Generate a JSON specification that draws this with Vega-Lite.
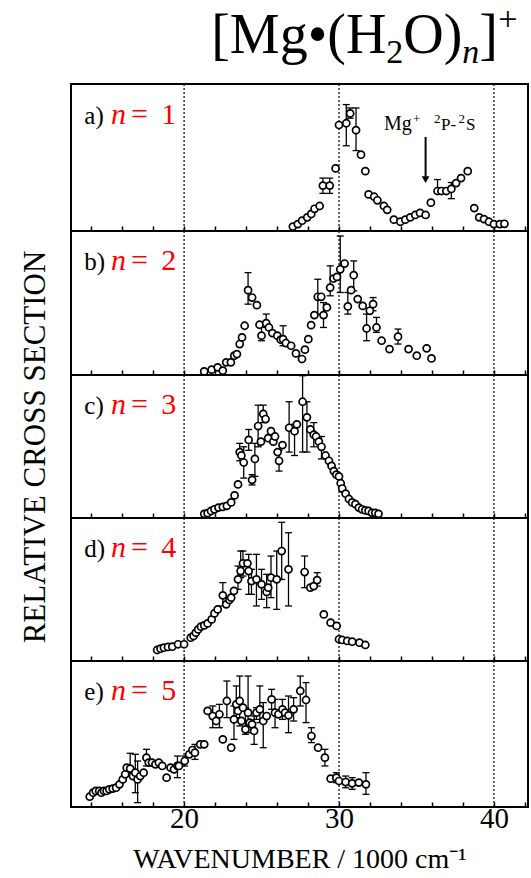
{
  "$schema": "https://vega.github.io/schema/vega-lite/v6.json",
  "padding": {"left": 17, "top": 0, "right": 0, "bottom": 0},
  "background": "white",
  "config": {
    "view": {"stroke": "black", "strokeWidth": 2},
    "font": "Liberation Serif",
    "concat": {"spacing": 0}
  },
  "datasets": {
    "grid": [{"x": 20}, {"x": 30}, {"x": 40}],
    "labels": [
      {"p": "a", "letter": "a)", "num": "1"},
      {"p": "b", "letter": "b)", "num": "2"},
      {"p": "c", "letter": "c)", "num": "3"},
      {"p": "d", "letter": "d)", "num": "4"},
      {"p": "e", "letter": "e)", "num": "5"}
    ],
    "pts": [
      {"p":"a","x":27.02,"y":0.030},{"p":"a","x":27.34,"y":0.047},{"p":"a","x":27.62,"y":0.070},{"p":"a","x":27.95,"y":0.093},
      {"p":"a","x":28.21,"y":0.116},{"p":"a","x":28.42,"y":0.151},{"p":"a","x":28.75,"y":0.170},
      {"p":"a","x":28.96,"y":0.309,"lo":0.256,"hi":0.36},{"p":"a","x":29.40,"y":0.309,"lo":0.256,"hi":0.36},
      {"p":"a","x":29.78,"y":0.426},{"p":"a","x":30.00,"y":0.721},{"p":"a","x":30.47,"y":0.733,"lo":0.58,"hi":0.86},
      {"p":"a","x":30.72,"y":0.80,"lo":0.767,"hi":0.837},{"p":"a","x":31.10,"y":0.686,"lo":0.547,"hi":0.837},
      {"p":"a","x":31.42,"y":0.519},{"p":"a","x":31.70,"y":0.407},{"p":"a","x":31.91,"y":0.249},{"p":"a","x":32.27,"y":0.233},
      {"p":"a","x":32.48,"y":0.209},{"p":"a","x":32.90,"y":0.170},{"p":"a","x":33.11,"y":0.144},{"p":"a","x":33.54,"y":0.077},
      {"p":"a","x":33.96,"y":0.063},{"p":"a","x":34.28,"y":0.077},{"p":"a","x":34.60,"y":0.093},{"p":"a","x":34.92,"y":0.109},
      {"p":"a","x":35.23,"y":0.123},{"p":"a","x":35.59,"y":0.109},{"p":"a","x":35.93,"y":0.193},
      {"p":"a","x":36.36,"y":0.272,"lo":0.256,"hi":0.35},{"p":"a","x":36.61,"y":0.272},{"p":"a","x":36.93,"y":0.272},
      {"p":"a","x":37.25,"y":0.286,"lo":0.22,"hi":0.33},{"p":"a","x":37.56,"y":0.326},{"p":"a","x":37.88,"y":0.360},
      {"p":"a","x":38.31,"y":0.407},{"p":"a","x":38.73,"y":0.156},{"p":"a","x":39.05,"y":0.093},{"p":"a","x":39.36,"y":0.081},
      {"p":"a","x":39.68,"y":0.063},{"p":"a","x":40.00,"y":0.047},{"p":"a","x":40.38,"y":0.047},{"p":"a","x":40.68,"y":0.049},

      {"p":"b","x":21.30,"y":0.025},{"p":"b","x":21.78,"y":0.037},{"p":"b","x":22.17,"y":0.053},{"p":"b","x":22.50,"y":0.030},
      {"p":"b","x":22.72,"y":0.088},{"p":"b","x":23.02,"y":0.088},{"p":"b","x":23.24,"y":0.134},{"p":"b","x":23.41,"y":0.145},
      {"p":"b","x":23.59,"y":0.215},{"p":"b","x":23.74,"y":0.261},{"p":"b","x":23.91,"y":0.342},
      {"p":"b","x":24.13,"y":0.589,"lo":0.492,"hi":0.711},{"p":"b","x":24.39,"y":0.538},{"p":"b","x":24.70,"y":0.485},
      {"p":"b","x":24.87,"y":0.349},{"p":"b","x":25.00,"y":0.273,"lo":0.238,"hi":0.342},{"p":"b","x":25.30,"y":0.360,"lo":0.330,"hi":0.423},
      {"p":"b","x":25.48,"y":0.330},{"p":"b","x":25.70,"y":0.291},{"p":"b","x":26.02,"y":0.273},{"p":"b","x":26.24,"y":0.245},
      {"p":"b","x":26.39,"y":0.249,"lo":0.203,"hi":0.342},{"p":"b","x":26.57,"y":0.222},{"p":"b","x":26.91,"y":0.203},
      {"p":"b","x":27.22,"y":0.150},{"p":"b","x":27.61,"y":0.111},{"p":"b","x":27.80,"y":0.176},{"p":"b","x":28.02,"y":0.249},
      {"p":"b","x":28.20,"y":0.346},{"p":"b","x":28.41,"y":0.416},{"p":"b","x":28.63,"y":0.543,"lo":0.423,"hi":0.665},
      {"p":"b","x":28.85,"y":0.543},{"p":"b","x":29.00,"y":0.416,"lo":0.330,"hi":0.503},{"p":"b","x":29.22,"y":0.469},
      {"p":"b","x":29.43,"y":0.607,"lo":0.55,"hi":0.758},{"p":"b","x":29.65,"y":0.670},{"p":"b","x":29.87,"y":0.681},
      {"p":"b","x":30.08,"y":0.734,"lo":0.573,"hi":0.965},{"p":"b","x":30.36,"y":0.774},{"p":"b","x":30.57,"y":0.476,"lo":0.423,"hi":0.573},
      {"p":"b","x":30.78,"y":0.589},{"p":"b","x":30.95,"y":0.693,"lo":0.584,"hi":0.792},{"p":"b","x":31.21,"y":0.527},
      {"p":"b","x":31.53,"y":0.480},{"p":"b","x":31.78,"y":0.323,"lo":0.238,"hi":0.423},{"p":"b","x":31.99,"y":0.446},
      {"p":"b","x":32.20,"y":0.492,"lo":0.446,"hi":0.538},{"p":"b","x":32.42,"y":0.330,"lo":0.296,"hi":0.400},
      {"p":"b","x":32.75,"y":0.238},{"p":"b","x":33.26,"y":0.180},{"p":"b","x":33.81,"y":0.266,"lo":0.215,"hi":0.319},
      {"p":"b","x":34.49,"y":0.180},{"p":"b","x":35.02,"y":0.134},{"p":"b","x":35.66,"y":0.185},{"p":"b","x":35.97,"y":0.115},

      {"p":"c","x":21.30,"y":0.029},{"p":"c","x":21.52,"y":0.034},{"p":"c","x":21.74,"y":0.049},{"p":"c","x":21.96,"y":0.061},
      {"p":"c","x":22.22,"y":0.073},{"p":"c","x":22.50,"y":0.078},{"p":"c","x":22.76,"y":0.085},{"p":"c","x":23.04,"y":0.109},
      {"p":"c","x":23.26,"y":0.158},{"p":"c","x":23.48,"y":0.235},{"p":"c","x":23.59,"y":0.461,"lo":0.40,"hi":0.522},
      {"p":"c","x":23.70,"y":0.437},{"p":"c","x":23.85,"y":0.388,"lo":0.279,"hi":0.498},{"p":"c","x":24.17,"y":0.546,"lo":0.473,"hi":0.619},
      {"p":"c","x":24.39,"y":0.267,"lo":0.231,"hi":0.303},{"p":"c","x":24.57,"y":0.413,"lo":0.291,"hi":0.522},
      {"p":"c","x":24.78,"y":0.643,"lo":0.498,"hi":0.789},{"p":"c","x":24.96,"y":0.534},{"p":"c","x":25.11,"y":0.728,"lo":0.667,"hi":0.789},
      {"p":"c","x":25.26,"y":0.692},{"p":"c","x":25.43,"y":0.558},{"p":"c","x":25.61,"y":0.607},{"p":"c","x":25.76,"y":0.534},
      {"p":"c","x":25.87,"y":0.570},{"p":"c","x":26.04,"y":0.461},{"p":"c","x":26.13,"y":0.40,"lo":0.328,"hi":0.473},
      {"p":"c","x":26.35,"y":0.510},{"p":"c","x":26.78,"y":0.631,"lo":0.461,"hi":0.813},{"p":"c","x":27.13,"y":0.607,"lo":0.437,"hi":0.655},
      {"p":"c","x":27.28,"y":0.655},{"p":"c","x":27.65,"y":0.813,"lo":0.461,"hi":0.995},{"p":"c","x":27.93,"y":0.704,"lo":0.461,"hi":0.813},
      {"p":"c","x":28.15,"y":0.619},{"p":"c","x":28.37,"y":0.583,"lo":0.498,"hi":0.667},{"p":"c","x":28.52,"y":0.570},
      {"p":"c","x":28.70,"y":0.534},{"p":"c","x":28.87,"y":0.498,"lo":0.413,"hi":0.570},{"p":"c","x":29.13,"y":0.437},
      {"p":"c","x":29.35,"y":0.40},{"p":"c","x":29.52,"y":0.364},{"p":"c","x":29.67,"y":0.328},{"p":"c","x":29.83,"y":0.303},
      {"p":"c","x":30.00,"y":0.291},{"p":"c","x":30.11,"y":0.243},{"p":"c","x":30.21,"y":0.206},{"p":"c","x":30.43,"y":0.170},
      {"p":"c","x":30.64,"y":0.133},{"p":"c","x":30.85,"y":0.109},{"p":"c","x":31.06,"y":0.097},{"p":"c","x":31.28,"y":0.073},
      {"p":"c","x":31.49,"y":0.061},{"p":"c","x":31.70,"y":0.053},{"p":"c","x":31.91,"y":0.049},{"p":"c","x":32.13,"y":0.036},
      {"p":"c","x":32.34,"y":0.036},{"p":"c","x":32.55,"y":0.029},

      {"p":"d","x":18.26,"y":0.077},{"p":"d","x":18.48,"y":0.086},{"p":"d","x":18.70,"y":0.093},{"p":"d","x":18.96,"y":0.098},
      {"p":"d","x":19.24,"y":0.100},{"p":"d","x":19.61,"y":0.117},{"p":"d","x":20.00,"y":0.117},{"p":"d","x":20.43,"y":0.163},
      {"p":"d","x":20.61,"y":0.175},{"p":"d","x":20.76,"y":0.198},{"p":"d","x":20.91,"y":0.221},{"p":"d","x":21.09,"y":0.240},
      {"p":"d","x":21.30,"y":0.249},{"p":"d","x":21.52,"y":0.263},{"p":"d","x":21.78,"y":0.291},{"p":"d","x":21.96,"y":0.333},
      {"p":"d","x":22.17,"y":0.361},{"p":"d","x":22.50,"y":0.459,"lo":0.385,"hi":0.548},{"p":"d","x":22.72,"y":0.396},
      {"p":"d","x":22.93,"y":0.427},{"p":"d","x":23.04,"y":0.443},{"p":"d","x":23.22,"y":0.490},
      {"p":"d","x":23.48,"y":0.571,"lo":0.501,"hi":0.664},{"p":"d","x":23.65,"y":0.629,"lo":0.583,"hi":0.769},
      {"p":"d","x":23.80,"y":0.683,"lo":0.594,"hi":0.769},{"p":"d","x":24.09,"y":0.683},{"p":"d","x":24.17,"y":0.629,"lo":0.466,"hi":0.746},
      {"p":"d","x":24.35,"y":0.559,"lo":0.466,"hi":0.641},{"p":"d","x":24.67,"y":0.571,"lo":0.385,"hi":0.746},
      {"p":"d","x":25.00,"y":0.536,"lo":0.431,"hi":0.641},{"p":"d","x":25.33,"y":0.483,"lo":0.373,"hi":0.606},
      {"p":"d","x":25.43,"y":0.513},{"p":"d","x":25.61,"y":0.583,"lo":0.443,"hi":0.734},{"p":"d","x":25.98,"y":0.571,"lo":0.361,"hi":0.769},
      {"p":"d","x":26.30,"y":0.769,"lo":0.57,"hi":0.97},{"p":"d","x":26.74,"y":0.641,"lo":0.385,"hi":0.897},
      {"p":"d","x":27.78,"y":0.622,"lo":0.513,"hi":0.734},{"p":"d","x":28.15,"y":0.513},{"p":"d","x":28.37,"y":0.524},
      {"p":"d","x":28.59,"y":0.566,"lo":0.524,"hi":0.618},{"p":"d","x":29.02,"y":0.326},{"p":"d","x":29.46,"y":0.268},
      {"p":"d","x":29.85,"y":0.245},{"p":"d","x":30.00,"y":0.152},{"p":"d","x":30.21,"y":0.147},{"p":"d","x":30.53,"y":0.140},
      {"p":"d","x":30.85,"y":0.135},{"p":"d","x":31.32,"y":0.128},{"p":"d","x":31.70,"y":0.112},

      {"p":"e","x":13.91,"y":0.071},{"p":"e","x":14.13,"y":0.098},{"p":"e","x":14.30,"y":0.110},{"p":"e","x":14.52,"y":0.110},
      {"p":"e","x":14.67,"y":0.098},{"p":"e","x":14.83,"y":0.110},{"p":"e","x":15.00,"y":0.110},{"p":"e","x":15.17,"y":0.121},
      {"p":"e","x":15.39,"y":0.126},{"p":"e","x":15.61,"y":0.132},{"p":"e","x":15.83,"y":0.155},{"p":"e","x":16.04,"y":0.189},
      {"p":"e","x":16.20,"y":0.224},{"p":"e","x":16.30,"y":0.269},{"p":"e","x":16.52,"y":0.263,"lo":0.212,"hi":0.368},
      {"p":"e","x":16.70,"y":0.212},{"p":"e","x":16.85,"y":0.235,"lo":0.098,"hi":0.361},{"p":"e","x":17.00,"y":0.189,"lo":0.03,"hi":0.315},
      {"p":"e","x":17.17,"y":0.212},{"p":"e","x":17.39,"y":0.235},{"p":"e","x":17.57,"y":0.338,"lo":0.281,"hi":0.395},
      {"p":"e","x":17.72,"y":0.304},{"p":"e","x":17.93,"y":0.304},{"p":"e","x":18.15,"y":0.292},{"p":"e","x":18.37,"y":0.304},
      {"p":"e","x":18.59,"y":0.281},{"p":"e","x":18.87,"y":0.201},{"p":"e","x":19.13,"y":0.269},{"p":"e","x":19.35,"y":0.258},
      {"p":"e","x":19.57,"y":0.281,"lo":0.201,"hi":0.349},{"p":"e","x":19.67,"y":0.281},{"p":"e","x":20.04,"y":0.315,"lo":0.281,"hi":0.349},
      {"p":"e","x":20.33,"y":0.361},{"p":"e","x":20.54,"y":0.390},{"p":"e","x":20.70,"y":0.372,"lo":0.326,"hi":0.429},
      {"p":"e","x":21.04,"y":0.429},{"p":"e","x":21.30,"y":0.429},{"p":"e","x":21.52,"y":0.658},
      {"p":"e","x":21.85,"y":0.623,"lo":0.543,"hi":0.692},{"p":"e","x":22.07,"y":0.589},{"p":"e","x":22.28,"y":0.635,"lo":0.543,"hi":0.703},
      {"p":"e","x":22.50,"y":0.463},{"p":"e","x":22.76,"y":0.726,"lo":0.612,"hi":0.863},{"p":"e","x":23.04,"y":0.406},
      {"p":"e","x":23.22,"y":0.600,"lo":0.463,"hi":0.692},{"p":"e","x":23.37,"y":0.703,"lo":0.612,"hi":0.829},{"p":"e","x":23.48,"y":0.658},
      {"p":"e","x":23.59,"y":0.726,"lo":0.555,"hi":0.897},{"p":"e","x":23.70,"y":0.589},{"p":"e","x":23.80,"y":0.680},
      {"p":"e","x":23.96,"y":0.532,"lo":0.498,"hi":0.680},{"p":"e","x":24.13,"y":0.646,"lo":0.509,"hi":0.897},{"p":"e","x":24.24,"y":0.578},
      {"p":"e","x":24.39,"y":0.566},{"p":"e","x":24.52,"y":0.521,"lo":0.429,"hi":0.623},{"p":"e","x":24.67,"y":0.646,"lo":0.600,"hi":0.680},
      {"p":"e","x":24.89,"y":0.669,"lo":0.578,"hi":0.829},{"p":"e","x":25.11,"y":0.589,"lo":0.406,"hi":0.715},{"p":"e","x":25.33,"y":0.623},
      {"p":"e","x":25.65,"y":0.737,"lo":0.669,"hi":0.806},{"p":"e","x":25.87,"y":0.646,"lo":0.543,"hi":0.737},{"p":"e","x":26.09,"y":0.635},
      {"p":"e","x":26.35,"y":0.669,"lo":0.600,"hi":0.737},{"p":"e","x":26.52,"y":0.646},{"p":"e","x":26.74,"y":0.628,"lo":0.509,"hi":0.760},
      {"p":"e","x":27.07,"y":0.669,"lo":0.589,"hi":0.749},{"p":"e","x":27.50,"y":0.795,"lo":0.692,"hi":0.897},
      {"p":"e","x":27.87,"y":0.733,"lo":0.578,"hi":0.852},{"p":"e","x":28.22,"y":0.486,"lo":0.441,"hi":0.543},{"p":"e","x":28.65,"y":0.406},
      {"p":"e","x":29.09,"y":0.338,"lo":0.281,"hi":0.395},{"p":"e","x":29.46,"y":0.194},{"p":"e","x":29.83,"y":0.201,"lo":0.167,"hi":0.235},
      {"p":"e","x":30.00,"y":0.178},{"p":"e","x":30.43,"y":0.171,"lo":0.132,"hi":0.212},{"p":"e","x":30.85,"y":0.162,"lo":0.121,"hi":0.201},
      {"p":"e","x":31.28,"y":0.167},{"p":"e","x":31.74,"y":0.155,"lo":0.087,"hi":0.235}
    ]
  },
  "vconcat": [
    {
      "width": 457, "height": 84,
      "data": {"values": [{}]},
      "view": {"stroke": null},
      "layer": [
        {"mark": {"type": "text", "text": "[Mg•(H", "align": "left", "baseline": "alphabetic", "fontSize": 56, "font": "Liberation Serif", "color": "black"},
         "encoding": {"x": {"datum": 21.75, "type": "quantitative", "scale": {"domain": [12.7, 42.2], "nice": false, "zero": false}, "axis": null},
                      "y": {"datum": 0.369, "type": "quantitative", "scale": {"domain": [0, 1]}, "axis": null}}},
        {"mark": {"type": "text", "text": "2", "align": "left", "baseline": "alphabetic", "fontSize": 34, "font": "Liberation Serif", "color": "black"},
         "encoding": {"x": {"datum": 33.05, "type": "quantitative", "axis": null}, "y": {"datum": 0.25, "type": "quantitative", "axis": null}}},
        {"mark": {"type": "text", "text": "O)", "align": "left", "baseline": "alphabetic", "fontSize": 56, "font": "Liberation Serif", "color": "black"},
         "encoding": {"x": {"datum": 34.15, "type": "quantitative", "axis": null}, "y": {"datum": 0.369, "type": "quantitative", "axis": null}}},
        {"mark": {"type": "text", "text": "n", "align": "left", "baseline": "alphabetic", "fontSize": 34, "fontStyle": "italic", "font": "Liberation Serif", "color": "black"},
         "encoding": {"x": {"datum": 37.96, "type": "quantitative", "axis": null}, "y": {"datum": 0.25, "type": "quantitative", "axis": null}}},
        {"mark": {"type": "text", "text": "]", "align": "left", "baseline": "alphabetic", "fontSize": 56, "font": "Liberation Serif", "color": "black"},
         "encoding": {"x": {"datum": 39.05, "type": "quantitative", "axis": null}, "y": {"datum": 0.369, "type": "quantitative", "axis": null}}},
        {"mark": {"type": "text", "text": "+", "align": "left", "baseline": "alphabetic", "fontSize": 34, "font": "Liberation Serif", "color": "black"},
         "encoding": {"x": {"datum": 40.28, "type": "quantitative", "axis": null}, "y": {"datum": 0.643, "type": "quantitative", "axis": null}}}
      ]
    },
    {
      "width": 457, "height": 147,
      "layer": [
        {"data": {"name": "grid"}, "mark": {"type": "rule", "strokeDash": [2, 2], "strokeWidth": 1.2, "color": "black"},
         "encoding": {"x": {"field": "x", "type": "quantitative", "scale": {"domain": [12.7, 42.2], "nice": false, "zero": false},
           "axis": {"title": null, "values": [14,16,18,20,22,24,26,28,30,32,34,36,38,40,42], "labels": false, "tickSize": -5, "tickColor": "black", "tickWidth": 1.5, "domain": false, "grid": false}}}},
        {"data": {"name": "pts"}, "transform": [{"filter": "datum.p === 'a' && isValid(datum.lo)"}],
         "mark": {"type": "rule", "strokeWidth": 1.3, "color": "black"},
         "encoding": {"x": {"field": "x", "type": "quantitative", "axis": {"title": null, "values": [14,16,18,20,22,24,26,28,30,32,34,36,38,40,42], "labels": false, "tickSize": -5, "tickColor": "black", "tickWidth": 1.5, "domain": false, "grid": false}},
           "y": {"field": "lo", "type": "quantitative", "scale": {"domain": [0, 1]}, "axis": null}, "y2": {"field": "hi"}}},
        {"data": {"name": "pts"}, "transform": [{"filter": "datum.p === 'a' && isValid(datum.lo)"}],
         "mark": {"type": "tick", "orient": "horizontal", "size": 7, "thickness": 1.3, "color": "black", "opacity": 1},
         "encoding": {"x": {"field": "x", "type": "quantitative", "axis": {"title": null, "values": [14,16,18,20,22,24,26,28,30,32,34,36,38,40,42], "labels": false, "tickSize": -5, "tickColor": "black", "tickWidth": 1.5, "domain": false, "grid": false}},
           "y": {"field": "lo", "type": "quantitative", "axis": null}}},
        {"data": {"name": "pts"}, "transform": [{"filter": "datum.p === 'a' && isValid(datum.lo)"}],
         "mark": {"type": "tick", "orient": "horizontal", "size": 7, "thickness": 1.3, "color": "black", "opacity": 1},
         "encoding": {"x": {"field": "x", "type": "quantitative", "axis": {"title": null, "values": [14,16,18,20,22,24,26,28,30,32,34,36,38,40,42], "labels": false, "tickSize": -5, "tickColor": "black", "tickWidth": 1.5, "domain": false, "grid": false}},
           "y": {"field": "hi", "type": "quantitative", "axis": null}}},
        {"data": {"name": "pts"}, "transform": [{"filter": "datum.p === 'a'"}],
         "mark": {"type": "point", "shape": "circle", "filled": true, "fill": "white", "stroke": "black", "strokeWidth": 1.7, "size": 50, "opacity": 1},
         "encoding": {"x": {"field": "x", "type": "quantitative", "axis": {"title": null, "values": [14,16,18,20,22,24,26,28,30,32,34,36,38,40,42], "labels": false, "tickSize": -5, "tickColor": "black", "tickWidth": 1.5, "domain": false, "grid": false}},
           "y": {"field": "y", "type": "quantitative", "axis": null}}},
        {"data": {"values": [{}]}, "mark": {"type": "rule", "strokeWidth": 2, "color": "black"},
         "encoding": {"x": {"datum": 35.59, "type": "quantitative", "axis": {"title": null, "values": [14,16,18,20,22,24,26,28,30,32,34,36,38,40,42], "labels": false, "tickSize": -5, "tickColor": "black", "tickWidth": 1.5, "domain": false, "grid": false}},
           "y": {"datum": 0.64, "type": "quantitative", "axis": null}, "y2": {"datum": 0.37}}},
        {"data": {"values": [{}]}, "mark": {"type": "point", "shape": "triangle-down", "filled": true, "color": "black", "size": 60, "opacity": 1},
         "encoding": {"x": {"datum": 35.59, "type": "quantitative", "axis": {"title": null, "values": [14,16,18,20,22,24,26,28,30,32,34,36,38,40,42], "labels": false, "tickSize": -5, "tickColor": "black", "tickWidth": 1.5, "domain": false, "grid": false}},
           "y": {"datum": 0.35, "type": "quantitative", "axis": null}}},
        {"data": {"values": [{}]}, "mark": {"type": "text", "text": "Mg", "align": "left", "baseline": "alphabetic", "fontSize": 20, "font": "Liberation Serif", "color": "black"},
         "encoding": {"x": {"datum": 32.91, "type": "quantitative", "axis": {"title": null, "values": [14,16,18,20,22,24,26,28,30,32,34,36,38,40,42], "labels": false, "tickSize": -5, "tickColor": "black", "tickWidth": 1.5, "domain": false, "grid": false}},
           "y": {"datum": 0.687, "type": "quantitative", "axis": null}}},
        {"data": {"values": [{}]}, "mark": {"type": "text", "text": "+", "align": "left", "baseline": "alphabetic", "fontSize": 13, "font": "Liberation Serif", "color": "black"},
         "encoding": {"x": {"datum": 34.78, "type": "quantitative", "axis": {"title": null, "values": [14,16,18,20,22,24,26,28,30,32,34,36,38,40,42], "labels": false, "tickSize": -5, "tickColor": "black", "tickWidth": 1.5, "domain": false, "grid": false}},
           "y": {"datum": 0.735, "type": "quantitative", "axis": null}}},
        {"data": {"values": [{}]}, "mark": {"type": "text", "text": "2", "align": "left", "baseline": "alphabetic", "fontSize": 13, "font": "Liberation Serif", "color": "black"},
         "encoding": {"x": {"datum": 36.13, "type": "quantitative", "axis": {"title": null, "values": [14,16,18,20,22,24,26,28,30,32,34,36,38,40,42], "labels": false, "tickSize": -5, "tickColor": "black", "tickWidth": 1.5, "domain": false, "grid": false}},
           "y": {"datum": 0.735, "type": "quantitative", "axis": null}}},
        {"data": {"values": [{}]}, "mark": {"type": "text", "text": "P-", "align": "left", "baseline": "alphabetic", "fontSize": 17, "font": "Liberation Serif", "color": "black"},
         "encoding": {"x": {"datum": 36.59, "type": "quantitative", "axis": {"title": null, "values": [14,16,18,20,22,24,26,28,30,32,34,36,38,40,42], "labels": false, "tickSize": -5, "tickColor": "black", "tickWidth": 1.5, "domain": false, "grid": false}},
           "y": {"datum": 0.687, "type": "quantitative", "axis": null}}},
        {"data": {"values": [{}]}, "mark": {"type": "text", "text": "2", "align": "left", "baseline": "alphabetic", "fontSize": 13, "font": "Liberation Serif", "color": "black"},
         "encoding": {"x": {"datum": 37.72, "type": "quantitative", "axis": {"title": null, "values": [14,16,18,20,22,24,26,28,30,32,34,36,38,40,42], "labels": false, "tickSize": -5, "tickColor": "black", "tickWidth": 1.5, "domain": false, "grid": false}},
           "y": {"datum": 0.735, "type": "quantitative", "axis": null}}},
        {"data": {"values": [{}]}, "mark": {"type": "text", "text": "S", "align": "left", "baseline": "alphabetic", "fontSize": 17, "font": "Liberation Serif", "color": "black"},
         "encoding": {"x": {"datum": 38.20, "type": "quantitative", "axis": {"title": null, "values": [14,16,18,20,22,24,26,28,30,32,34,36,38,40,42], "labels": false, "tickSize": -5, "tickColor": "black", "tickWidth": 1.5, "domain": false, "grid": false}},
           "y": {"datum": 0.687, "type": "quantitative", "axis": null}}},
        {"data": {"name": "labels"}, "transform": [{"filter": "datum.p === 'a'"}],
         "mark": {"type": "text", "align": "left", "baseline": "alphabetic", "fontSize": 25, "font": "Liberation Serif", "color": "black"},
         "encoding": {"x": {"datum": 13.56, "type": "quantitative", "axis": {"title": null, "values": [14,16,18,20,22,24,26,28,30,32,34,36,38,40,42], "labels": false, "tickSize": -5, "tickColor": "black", "tickWidth": 1.5, "domain": false, "grid": false}},
           "y": {"datum": 0.73, "type": "quantitative", "axis": null}, "text": {"field": "letter"}}},
        {"data": {"name": "labels"}, "transform": [{"filter": "datum.p === 'a'"}],
         "mark": {"type": "text", "text": "n", "align": "left", "baseline": "alphabetic", "fontSize": 30, "fontStyle": "italic", "font": "Liberation Serif", "color": "#ff0000"},
         "encoding": {"x": {"datum": 15.29, "type": "quantitative", "axis": {"title": null, "values": [14,16,18,20,22,24,26,28,30,32,34,36,38,40,42], "labels": false, "tickSize": -5, "tickColor": "black", "tickWidth": 1.5, "domain": false, "grid": false}},
           "y": {"datum": 0.73, "type": "quantitative", "axis": null}}},
        {"data": {"name": "labels"}, "transform": [{"filter": "datum.p === 'a'"}],
         "mark": {"type": "text", "text": "=", "align": "left", "baseline": "alphabetic", "fontSize": 30, "font": "Liberation Serif", "color": "#ff0000"},
         "encoding": {"x": {"datum": 16.58, "type": "quantitative", "axis": {"title": null, "values": [14,16,18,20,22,24,26,28,30,32,34,36,38,40,42], "labels": false, "tickSize": -5, "tickColor": "black", "tickWidth": 1.5, "domain": false, "grid": false}},
           "y": {"datum": 0.73, "type": "quantitative", "axis": null}}},
        {"data": {"name": "labels"}, "transform": [{"filter": "datum.p === 'a'"}],
         "mark": {"type": "text", "align": "left", "baseline": "alphabetic", "fontSize": 30, "font": "Liberation Serif", "color": "#ff0000"},
         "encoding": {"x": {"datum": 18.52, "type": "quantitative", "axis": {"title": null, "values": [14,16,18,20,22,24,26,28,30,32,34,36,38,40,42], "labels": false, "tickSize": -5, "tickColor": "black", "tickWidth": 1.5, "domain": false, "grid": false}},
           "y": {"datum": 0.73, "type": "quantitative", "axis": null}, "text": {"field": "num"}}}
      ]
    },
    {
      "width": 457, "height": 144,
      "layer": [
        {"data": {"name": "grid"}, "mark": {"type": "rule", "strokeDash": [2, 2], "strokeWidth": 1.2, "color": "black"},
         "encoding": {"x": {"field": "x", "type": "quantitative", "scale": {"domain": [12.7, 42.2], "nice": false, "zero": false},
           "axis": {"title": null, "values": [14,16,18,20,22,24,26,28,30,32,34,36,38,40,42], "labels": false, "tickSize": -5, "tickColor": "black", "tickWidth": 1.5, "domain": false, "grid": false}}}},
        {"data": {"name": "pts"}, "transform": [{"filter": "datum.p === 'b' && isValid(datum.lo)"}],
         "mark": {"type": "rule", "strokeWidth": 1.3, "color": "black"},
         "encoding": {"x": {"field": "x", "type": "quantitative", "axis": {"title": null, "values": [14,16,18,20,22,24,26,28,30,32,34,36,38,40,42], "labels": false, "tickSize": -5, "tickColor": "black", "tickWidth": 1.5, "domain": false, "grid": false}},
           "y": {"field": "lo", "type": "quantitative", "scale": {"domain": [0, 1]}, "axis": null}, "y2": {"field": "hi"}}},
        {"data": {"name": "pts"}, "transform": [{"filter": "datum.p === 'b' && isValid(datum.lo)"}],
         "mark": {"type": "tick", "orient": "horizontal", "size": 7, "thickness": 1.3, "color": "black", "opacity": 1},
         "encoding": {"x": {"field": "x", "type": "quantitative", "axis": {"title": null, "values": [14,16,18,20,22,24,26,28,30,32,34,36,38,40,42], "labels": false, "tickSize": -5, "tickColor": "black", "tickWidth": 1.5, "domain": false, "grid": false}},
           "y": {"field": "lo", "type": "quantitative", "axis": null}}},
        {"data": {"name": "pts"}, "transform": [{"filter": "datum.p === 'b' && isValid(datum.lo)"}],
         "mark": {"type": "tick", "orient": "horizontal", "size": 7, "thickness": 1.3, "color": "black", "opacity": 1},
         "encoding": {"x": {"field": "x", "type": "quantitative", "axis": {"title": null, "values": [14,16,18,20,22,24,26,28,30,32,34,36,38,40,42], "labels": false, "tickSize": -5, "tickColor": "black", "tickWidth": 1.5, "domain": false, "grid": false}},
           "y": {"field": "hi", "type": "quantitative", "axis": null}}},
        {"data": {"name": "pts"}, "transform": [{"filter": "datum.p === 'b'"}],
         "mark": {"type": "point", "shape": "circle", "filled": true, "fill": "white", "stroke": "black", "strokeWidth": 1.7, "size": 50, "opacity": 1},
         "encoding": {"x": {"field": "x", "type": "quantitative", "axis": {"title": null, "values": [14,16,18,20,22,24,26,28,30,32,34,36,38,40,42], "labels": false, "tickSize": -5, "tickColor": "black", "tickWidth": 1.5, "domain": false, "grid": false}},
           "y": {"field": "y", "type": "quantitative", "axis": null}}},
        {"data": {"name": "labels"}, "transform": [{"filter": "datum.p === 'b'"}],
         "mark": {"type": "text", "align": "left", "baseline": "alphabetic", "fontSize": 25, "font": "Liberation Serif", "color": "black"},
         "encoding": {"x": {"datum": 13.56, "type": "quantitative", "axis": {"title": null, "values": [14,16,18,20,22,24,26,28,30,32,34,36,38,40,42], "labels": false, "tickSize": -5, "tickColor": "black", "tickWidth": 1.5, "domain": false, "grid": false}},
           "y": {"datum": 0.73, "type": "quantitative", "axis": null}, "text": {"field": "letter"}}},
        {"data": {"name": "labels"}, "transform": [{"filter": "datum.p === 'b'"}],
         "mark": {"type": "text", "text": "n", "align": "left", "baseline": "alphabetic", "fontSize": 30, "fontStyle": "italic", "font": "Liberation Serif", "color": "#ff0000"},
         "encoding": {"x": {"datum": 15.29, "type": "quantitative", "axis": {"title": null, "values": [14,16,18,20,22,24,26,28,30,32,34,36,38,40,42], "labels": false, "tickSize": -5, "tickColor": "black", "tickWidth": 1.5, "domain": false, "grid": false}},
           "y": {"datum": 0.73, "type": "quantitative", "axis": null}}},
        {"data": {"name": "labels"}, "transform": [{"filter": "datum.p === 'b'"}],
         "mark": {"type": "text", "text": "=", "align": "left", "baseline": "alphabetic", "fontSize": 30, "font": "Liberation Serif", "color": "#ff0000"},
         "encoding": {"x": {"datum": 16.58, "type": "quantitative", "axis": {"title": null, "values": [14,16,18,20,22,24,26,28,30,32,34,36,38,40,42], "labels": false, "tickSize": -5, "tickColor": "black", "tickWidth": 1.5, "domain": false, "grid": false}},
           "y": {"datum": 0.73, "type": "quantitative", "axis": null}}},
        {"data": {"name": "labels"}, "transform": [{"filter": "datum.p === 'b'"}],
         "mark": {"type": "text", "align": "left", "baseline": "alphabetic", "fontSize": 30, "font": "Liberation Serif", "color": "#ff0000"},
         "encoding": {"x": {"datum": 18.52, "type": "quantitative", "axis": {"title": null, "values": [14,16,18,20,22,24,26,28,30,32,34,36,38,40,42], "labels": false, "tickSize": -5, "tickColor": "black", "tickWidth": 1.5, "domain": false, "grid": false}},
           "y": {"datum": 0.73, "type": "quantitative", "axis": null}, "text": {"field": "num"}}}
      ]
    },
    {
      "width": 457, "height": 143,
      "layer": [
        {"data": {"name": "grid"}, "mark": {"type": "rule", "strokeDash": [2, 2], "strokeWidth": 1.2, "color": "black"},
         "encoding": {"x": {"field": "x", "type": "quantitative", "scale": {"domain": [12.7, 42.2], "nice": false, "zero": false},
           "axis": {"title": null, "values": [14,16,18,20,22,24,26,28,30,32,34,36,38,40,42], "labels": false, "tickSize": -5, "tickColor": "black", "tickWidth": 1.5, "domain": false, "grid": false}}}},
        {"data": {"name": "pts"}, "transform": [{"filter": "datum.p === 'c' && isValid(datum.lo)"}],
         "mark": {"type": "rule", "strokeWidth": 1.3, "color": "black"},
         "encoding": {"x": {"field": "x", "type": "quantitative", "axis": {"title": null, "values": [14,16,18,20,22,24,26,28,30,32,34,36,38,40,42], "labels": false, "tickSize": -5, "tickColor": "black", "tickWidth": 1.5, "domain": false, "grid": false}},
           "y": {"field": "lo", "type": "quantitative", "scale": {"domain": [0, 1]},
             "axis": {"title": "RELATIVE CROSS SECTION", "labels": false, "ticks": false, "domain": false, "grid": false, "titleFont": "Liberation Serif", "titleFontSize": 31, "titleFontWeight": "normal", "titleColor": "black", "titlePadding": 20}}, "y2": {"field": "hi"}}},
        {"data": {"name": "pts"}, "transform": [{"filter": "datum.p === 'c' && isValid(datum.lo)"}],
         "mark": {"type": "tick", "orient": "horizontal", "size": 7, "thickness": 1.3, "color": "black", "opacity": 1},
         "encoding": {"x": {"field": "x", "type": "quantitative", "axis": {"title": null, "values": [14,16,18,20,22,24,26,28,30,32,34,36,38,40,42], "labels": false, "tickSize": -5, "tickColor": "black", "tickWidth": 1.5, "domain": false, "grid": false}},
           "y": {"field": "lo", "type": "quantitative", "axis": {"title": "RELATIVE CROSS SECTION", "labels": false, "ticks": false, "domain": false, "grid": false, "titleFont": "Liberation Serif", "titleFontSize": 31, "titleFontWeight": "normal", "titleColor": "black", "titlePadding": 20}}}},
        {"data": {"name": "pts"}, "transform": [{"filter": "datum.p === 'c' && isValid(datum.lo)"}],
         "mark": {"type": "tick", "orient": "horizontal", "size": 7, "thickness": 1.3, "color": "black", "opacity": 1},
         "encoding": {"x": {"field": "x", "type": "quantitative", "axis": {"title": null, "values": [14,16,18,20,22,24,26,28,30,32,34,36,38,40,42], "labels": false, "tickSize": -5, "tickColor": "black", "tickWidth": 1.5, "domain": false, "grid": false}},
           "y": {"field": "hi", "type": "quantitative", "axis": {"title": "RELATIVE CROSS SECTION", "labels": false, "ticks": false, "domain": false, "grid": false, "titleFont": "Liberation Serif", "titleFontSize": 31, "titleFontWeight": "normal", "titleColor": "black", "titlePadding": 20}}}},
        {"data": {"name": "pts"}, "transform": [{"filter": "datum.p === 'c'"}],
         "mark": {"type": "point", "shape": "circle", "filled": true, "fill": "white", "stroke": "black", "strokeWidth": 1.7, "size": 50, "opacity": 1},
         "encoding": {"x": {"field": "x", "type": "quantitative", "axis": {"title": null, "values": [14,16,18,20,22,24,26,28,30,32,34,36,38,40,42], "labels": false, "tickSize": -5, "tickColor": "black", "tickWidth": 1.5, "domain": false, "grid": false}},
           "y": {"field": "y", "type": "quantitative", "axis": {"title": "RELATIVE CROSS SECTION", "labels": false, "ticks": false, "domain": false, "grid": false, "titleFont": "Liberation Serif", "titleFontSize": 31, "titleFontWeight": "normal", "titleColor": "black", "titlePadding": 20}}}},
        {"data": {"name": "labels"}, "transform": [{"filter": "datum.p === 'c'"}],
         "mark": {"type": "text", "align": "left", "baseline": "alphabetic", "fontSize": 25, "font": "Liberation Serif", "color": "black"},
         "encoding": {"x": {"datum": 13.56, "type": "quantitative", "axis": {"title": null, "values": [14,16,18,20,22,24,26,28,30,32,34,36,38,40,42], "labels": false, "tickSize": -5, "tickColor": "black", "tickWidth": 1.5, "domain": false, "grid": false}},
           "y": {"datum": 0.73, "type": "quantitative", "axis": {"title": "RELATIVE CROSS SECTION", "labels": false, "ticks": false, "domain": false, "grid": false, "titleFont": "Liberation Serif", "titleFontSize": 31, "titleFontWeight": "normal", "titleColor": "black", "titlePadding": 20}}, "text": {"field": "letter"}}},
        {"data": {"name": "labels"}, "transform": [{"filter": "datum.p === 'c'"}],
         "mark": {"type": "text", "text": "n", "align": "left", "baseline": "alphabetic", "fontSize": 30, "fontStyle": "italic", "font": "Liberation Serif", "color": "#ff0000"},
         "encoding": {"x": {"datum": 15.29, "type": "quantitative", "axis": {"title": null, "values": [14,16,18,20,22,24,26,28,30,32,34,36,38,40,42], "labels": false, "tickSize": -5, "tickColor": "black", "tickWidth": 1.5, "domain": false, "grid": false}},
           "y": {"datum": 0.73, "type": "quantitative", "axis": {"title": "RELATIVE CROSS SECTION", "labels": false, "ticks": false, "domain": false, "grid": false, "titleFont": "Liberation Serif", "titleFontSize": 31, "titleFontWeight": "normal", "titleColor": "black", "titlePadding": 20}}}},
        {"data": {"name": "labels"}, "transform": [{"filter": "datum.p === 'c'"}],
         "mark": {"type": "text", "text": "=", "align": "left", "baseline": "alphabetic", "fontSize": 30, "font": "Liberation Serif", "color": "#ff0000"},
         "encoding": {"x": {"datum": 16.58, "type": "quantitative", "axis": {"title": null, "values": [14,16,18,20,22,24,26,28,30,32,34,36,38,40,42], "labels": false, "tickSize": -5, "tickColor": "black", "tickWidth": 1.5, "domain": false, "grid": false}},
           "y": {"datum": 0.73, "type": "quantitative", "axis": {"title": "RELATIVE CROSS SECTION", "labels": false, "ticks": false, "domain": false, "grid": false, "titleFont": "Liberation Serif", "titleFontSize": 31, "titleFontWeight": "normal", "titleColor": "black", "titlePadding": 20}}}},
        {"data": {"name": "labels"}, "transform": [{"filter": "datum.p === 'c'"}],
         "mark": {"type": "text", "align": "left", "baseline": "alphabetic", "fontSize": 30, "font": "Liberation Serif", "color": "#ff0000"},
         "encoding": {"x": {"datum": 18.52, "type": "quantitative", "axis": {"title": null, "values": [14,16,18,20,22,24,26,28,30,32,34,36,38,40,42], "labels": false, "tickSize": -5, "tickColor": "black", "tickWidth": 1.5, "domain": false, "grid": false}},
           "y": {"datum": 0.73, "type": "quantitative", "axis": {"title": "RELATIVE CROSS SECTION", "labels": false, "ticks": false, "domain": false, "grid": false, "titleFont": "Liberation Serif", "titleFontSize": 31, "titleFontWeight": "normal", "titleColor": "black", "titlePadding": 20}}, "text": {"field": "num"}}}
      ]
    },
    {
      "width": 457, "height": 143,
      "layer": [
        {"data": {"name": "grid"}, "mark": {"type": "rule", "strokeDash": [2, 2], "strokeWidth": 1.2, "color": "black"},
         "encoding": {"x": {"field": "x", "type": "quantitative", "scale": {"domain": [12.7, 42.2], "nice": false, "zero": false},
           "axis": {"title": null, "values": [14,16,18,20,22,24,26,28,30,32,34,36,38,40,42], "labels": false, "tickSize": -5, "tickColor": "black", "tickWidth": 1.5, "domain": false, "grid": false}}}},
        {"data": {"name": "pts"}, "transform": [{"filter": "datum.p === 'd' && isValid(datum.lo)"}],
         "mark": {"type": "rule", "strokeWidth": 1.3, "color": "black"},
         "encoding": {"x": {"field": "x", "type": "quantitative", "axis": {"title": null, "values": [14,16,18,20,22,24,26,28,30,32,34,36,38,40,42], "labels": false, "tickSize": -5, "tickColor": "black", "tickWidth": 1.5, "domain": false, "grid": false}},
           "y": {"field": "lo", "type": "quantitative", "scale": {"domain": [0, 1]}, "axis": null}, "y2": {"field": "hi"}}},
        {"data": {"name": "pts"}, "transform": [{"filter": "datum.p === 'd' && isValid(datum.lo)"}],
         "mark": {"type": "tick", "orient": "horizontal", "size": 7, "thickness": 1.3, "color": "black", "opacity": 1},
         "encoding": {"x": {"field": "x", "type": "quantitative", "axis": {"title": null, "values": [14,16,18,20,22,24,26,28,30,32,34,36,38,40,42], "labels": false, "tickSize": -5, "tickColor": "black", "tickWidth": 1.5, "domain": false, "grid": false}},
           "y": {"field": "lo", "type": "quantitative", "axis": null}}},
        {"data": {"name": "pts"}, "transform": [{"filter": "datum.p === 'd' && isValid(datum.lo)"}],
         "mark": {"type": "tick", "orient": "horizontal", "size": 7, "thickness": 1.3, "color": "black", "opacity": 1},
         "encoding": {"x": {"field": "x", "type": "quantitative", "axis": {"title": null, "values": [14,16,18,20,22,24,26,28,30,32,34,36,38,40,42], "labels": false, "tickSize": -5, "tickColor": "black", "tickWidth": 1.5, "domain": false, "grid": false}},
           "y": {"field": "hi", "type": "quantitative", "axis": null}}},
        {"data": {"name": "pts"}, "transform": [{"filter": "datum.p === 'd'"}],
         "mark": {"type": "point", "shape": "circle", "filled": true, "fill": "white", "stroke": "black", "strokeWidth": 1.7, "size": 50, "opacity": 1},
         "encoding": {"x": {"field": "x", "type": "quantitative", "axis": {"title": null, "values": [14,16,18,20,22,24,26,28,30,32,34,36,38,40,42], "labels": false, "tickSize": -5, "tickColor": "black", "tickWidth": 1.5, "domain": false, "grid": false}},
           "y": {"field": "y", "type": "quantitative", "axis": null}}},
        {"data": {"name": "labels"}, "transform": [{"filter": "datum.p === 'd'"}],
         "mark": {"type": "text", "align": "left", "baseline": "alphabetic", "fontSize": 25, "font": "Liberation Serif", "color": "black"},
         "encoding": {"x": {"datum": 13.56, "type": "quantitative", "axis": {"title": null, "values": [14,16,18,20,22,24,26,28,30,32,34,36,38,40,42], "labels": false, "tickSize": -5, "tickColor": "black", "tickWidth": 1.5, "domain": false, "grid": false}},
           "y": {"datum": 0.73, "type": "quantitative", "axis": null}, "text": {"field": "letter"}}},
        {"data": {"name": "labels"}, "transform": [{"filter": "datum.p === 'd'"}],
         "mark": {"type": "text", "text": "n", "align": "left", "baseline": "alphabetic", "fontSize": 30, "fontStyle": "italic", "font": "Liberation Serif", "color": "#ff0000"},
         "encoding": {"x": {"datum": 15.29, "type": "quantitative", "axis": {"title": null, "values": [14,16,18,20,22,24,26,28,30,32,34,36,38,40,42], "labels": false, "tickSize": -5, "tickColor": "black", "tickWidth": 1.5, "domain": false, "grid": false}},
           "y": {"datum": 0.73, "type": "quantitative", "axis": null}}},
        {"data": {"name": "labels"}, "transform": [{"filter": "datum.p === 'd'"}],
         "mark": {"type": "text", "text": "=", "align": "left", "baseline": "alphabetic", "fontSize": 30, "font": "Liberation Serif", "color": "#ff0000"},
         "encoding": {"x": {"datum": 16.58, "type": "quantitative", "axis": {"title": null, "values": [14,16,18,20,22,24,26,28,30,32,34,36,38,40,42], "labels": false, "tickSize": -5, "tickColor": "black", "tickWidth": 1.5, "domain": false, "grid": false}},
           "y": {"datum": 0.73, "type": "quantitative", "axis": null}}},
        {"data": {"name": "labels"}, "transform": [{"filter": "datum.p === 'd'"}],
         "mark": {"type": "text", "align": "left", "baseline": "alphabetic", "fontSize": 30, "font": "Liberation Serif", "color": "#ff0000"},
         "encoding": {"x": {"datum": 18.52, "type": "quantitative", "axis": {"title": null, "values": [14,16,18,20,22,24,26,28,30,32,34,36,38,40,42], "labels": false, "tickSize": -5, "tickColor": "black", "tickWidth": 1.5, "domain": false, "grid": false}},
           "y": {"datum": 0.73, "type": "quantitative", "axis": null}, "text": {"field": "num"}}}
      ]
    },
    {
      "width": 457, "height": 146,
      "layer": [
        {"data": {"name": "grid"}, "mark": {"type": "rule", "strokeDash": [2, 2], "strokeWidth": 1.2, "color": "black"},
         "encoding": {"x": {"field": "x", "type": "quantitative", "scale": {"domain": [12.7, 42.2], "nice": false, "zero": false},
           "axis": {"title": "WAVENUMBER / 1000 cm⁻¹", "values": [14,16,18,20,22,24,26,28,30,32,34,36,38,40,42], "labels": true, "labelExpr": "datum.value % 10 === 0 ? datum.label : ''", "labelFont": "Liberation Serif", "labelFontSize": 29, "labelColor": "black", "labelPadding": 2, "labelFlush": false, "labelOverlap": false, "tickSize": -5, "tickColor": "black", "tickWidth": 1.5, "domain": false, "grid": false, "titleFont": "Liberation Serif", "titleFontSize": 28, "titleFontWeight": "normal", "titleColor": "black", "titlePadding": 12}}}},
        {"data": {"name": "pts"}, "transform": [{"filter": "datum.p === 'e' && isValid(datum.lo)"}],
         "mark": {"type": "rule", "strokeWidth": 1.3, "color": "black"},
         "encoding": {"x": {"field": "x", "type": "quantitative", "axis": {"title": "WAVENUMBER / 1000 cm⁻¹", "values": [14,16,18,20,22,24,26,28,30,32,34,36,38,40,42], "labels": true, "labelExpr": "datum.value % 10 === 0 ? datum.label : ''", "labelFont": "Liberation Serif", "labelFontSize": 29, "labelColor": "black", "labelPadding": 2, "labelFlush": false, "labelOverlap": false, "tickSize": -5, "tickColor": "black", "tickWidth": 1.5, "domain": false, "grid": false, "titleFont": "Liberation Serif", "titleFontSize": 28, "titleFontWeight": "normal", "titleColor": "black", "titlePadding": 12}},
           "y": {"field": "lo", "type": "quantitative", "scale": {"domain": [0, 1]}, "axis": null}, "y2": {"field": "hi"}}},
        {"data": {"name": "pts"}, "transform": [{"filter": "datum.p === 'e' && isValid(datum.lo)"}],
         "mark": {"type": "tick", "orient": "horizontal", "size": 7, "thickness": 1.3, "color": "black", "opacity": 1},
         "encoding": {"x": {"field": "x", "type": "quantitative", "axis": {"title": "WAVENUMBER / 1000 cm⁻¹", "values": [14,16,18,20,22,24,26,28,30,32,34,36,38,40,42], "labels": true, "labelExpr": "datum.value % 10 === 0 ? datum.label : ''", "labelFont": "Liberation Serif", "labelFontSize": 29, "labelColor": "black", "labelPadding": 2, "labelFlush": false, "labelOverlap": false, "tickSize": -5, "tickColor": "black", "tickWidth": 1.5, "domain": false, "grid": false, "titleFont": "Liberation Serif", "titleFontSize": 28, "titleFontWeight": "normal", "titleColor": "black", "titlePadding": 12}},
           "y": {"field": "lo", "type": "quantitative", "axis": null}}},
        {"data": {"name": "pts"}, "transform": [{"filter": "datum.p === 'e' && isValid(datum.lo)"}],
         "mark": {"type": "tick", "orient": "horizontal", "size": 7, "thickness": 1.3, "color": "black", "opacity": 1},
         "encoding": {"x": {"field": "x", "type": "quantitative", "axis": {"title": "WAVENUMBER / 1000 cm⁻¹", "values": [14,16,18,20,22,24,26,28,30,32,34,36,38,40,42], "labels": true, "labelExpr": "datum.value % 10 === 0 ? datum.label : ''", "labelFont": "Liberation Serif", "labelFontSize": 29, "labelColor": "black", "labelPadding": 2, "labelFlush": false, "labelOverlap": false, "tickSize": -5, "tickColor": "black", "tickWidth": 1.5, "domain": false, "grid": false, "titleFont": "Liberation Serif", "titleFontSize": 28, "titleFontWeight": "normal", "titleColor": "black", "titlePadding": 12}},
           "y": {"field": "hi", "type": "quantitative", "axis": null}}},
        {"data": {"name": "pts"}, "transform": [{"filter": "datum.p === 'e'"}],
         "mark": {"type": "point", "shape": "circle", "filled": true, "fill": "white", "stroke": "black", "strokeWidth": 1.7, "size": 50, "opacity": 1},
         "encoding": {"x": {"field": "x", "type": "quantitative", "axis": {"title": "WAVENUMBER / 1000 cm⁻¹", "values": [14,16,18,20,22,24,26,28,30,32,34,36,38,40,42], "labels": true, "labelExpr": "datum.value % 10 === 0 ? datum.label : ''", "labelFont": "Liberation Serif", "labelFontSize": 29, "labelColor": "black", "labelPadding": 2, "labelFlush": false, "labelOverlap": false, "tickSize": -5, "tickColor": "black", "tickWidth": 1.5, "domain": false, "grid": false, "titleFont": "Liberation Serif", "titleFontSize": 28, "titleFontWeight": "normal", "titleColor": "black", "titlePadding": 12}},
           "y": {"field": "y", "type": "quantitative", "axis": null}}},
        {"data": {"name": "labels"}, "transform": [{"filter": "datum.p === 'e'"}],
         "mark": {"type": "text", "align": "left", "baseline": "alphabetic", "fontSize": 25, "font": "Liberation Serif", "color": "black"},
         "encoding": {"x": {"datum": 13.56, "type": "quantitative", "axis": {"title": "WAVENUMBER / 1000 cm⁻¹", "values": [14,16,18,20,22,24,26,28,30,32,34,36,38,40,42], "labels": true, "labelExpr": "datum.value % 10 === 0 ? datum.label : ''", "labelFont": "Liberation Serif", "labelFontSize": 29, "labelColor": "black", "labelPadding": 2, "labelFlush": false, "labelOverlap": false, "tickSize": -5, "tickColor": "black", "tickWidth": 1.5, "domain": false, "grid": false, "titleFont": "Liberation Serif", "titleFontSize": 28, "titleFontWeight": "normal", "titleColor": "black", "titlePadding": 12}},
           "y": {"datum": 0.73, "type": "quantitative", "axis": null}, "text": {"field": "letter"}}},
        {"data": {"name": "labels"}, "transform": [{"filter": "datum.p === 'e'"}],
         "mark": {"type": "text", "text": "n", "align": "left", "baseline": "alphabetic", "fontSize": 30, "fontStyle": "italic", "font": "Liberation Serif", "color": "#ff0000"},
         "encoding": {"x": {"datum": 15.29, "type": "quantitative", "axis": {"title": "WAVENUMBER / 1000 cm⁻¹", "values": [14,16,18,20,22,24,26,28,30,32,34,36,38,40,42], "labels": true, "labelExpr": "datum.value % 10 === 0 ? datum.label : ''", "labelFont": "Liberation Serif", "labelFontSize": 29, "labelColor": "black", "labelPadding": 2, "labelFlush": false, "labelOverlap": false, "tickSize": -5, "tickColor": "black", "tickWidth": 1.5, "domain": false, "grid": false, "titleFont": "Liberation Serif", "titleFontSize": 28, "titleFontWeight": "normal", "titleColor": "black", "titlePadding": 12}},
           "y": {"datum": 0.73, "type": "quantitative", "axis": null}}},
        {"data": {"name": "labels"}, "transform": [{"filter": "datum.p === 'e'"}],
         "mark": {"type": "text", "text": "=", "align": "left", "baseline": "alphabetic", "fontSize": 30, "font": "Liberation Serif", "color": "#ff0000"},
         "encoding": {"x": {"datum": 16.58, "type": "quantitative", "axis": {"title": "WAVENUMBER / 1000 cm⁻¹", "values": [14,16,18,20,22,24,26,28,30,32,34,36,38,40,42], "labels": true, "labelExpr": "datum.value % 10 === 0 ? datum.label : ''", "labelFont": "Liberation Serif", "labelFontSize": 29, "labelColor": "black", "labelPadding": 2, "labelFlush": false, "labelOverlap": false, "tickSize": -5, "tickColor": "black", "tickWidth": 1.5, "domain": false, "grid": false, "titleFont": "Liberation Serif", "titleFontSize": 28, "titleFontWeight": "normal", "titleColor": "black", "titlePadding": 12}},
           "y": {"datum": 0.73, "type": "quantitative", "axis": null}}},
        {"data": {"name": "labels"}, "transform": [{"filter": "datum.p === 'e'"}],
         "mark": {"type": "text", "align": "left", "baseline": "alphabetic", "fontSize": 30, "font": "Liberation Serif", "color": "#ff0000"},
         "encoding": {"x": {"datum": 18.52, "type": "quantitative", "axis": {"title": "WAVENUMBER / 1000 cm⁻¹", "values": [14,16,18,20,22,24,26,28,30,32,34,36,38,40,42], "labels": true, "labelExpr": "datum.value % 10 === 0 ? datum.label : ''", "labelFont": "Liberation Serif", "labelFontSize": 29, "labelColor": "black", "labelPadding": 2, "labelFlush": false, "labelOverlap": false, "tickSize": -5, "tickColor": "black", "tickWidth": 1.5, "domain": false, "grid": false, "titleFont": "Liberation Serif", "titleFontSize": 28, "titleFontWeight": "normal", "titleColor": "black", "titlePadding": 12}},
           "y": {"datum": 0.73, "type": "quantitative", "axis": null}, "text": {"field": "num"}}}
      ]
    }
  ],
  "spacing": 0,
  "bounds": "flush"
}
